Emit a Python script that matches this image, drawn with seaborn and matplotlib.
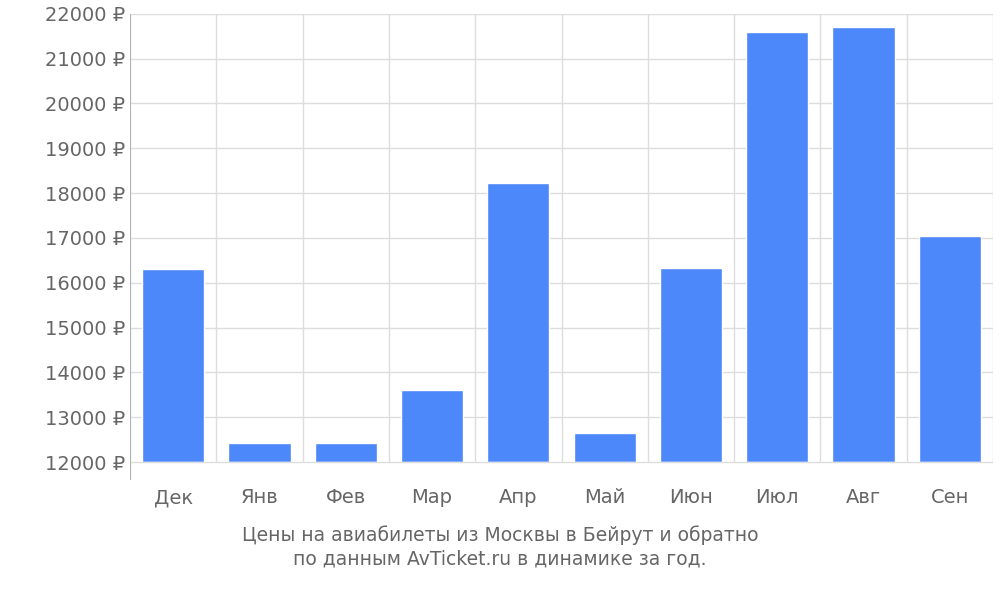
import matplotlib
matplotlib.use("Agg")
import matplotlib.pyplot as plt
import seaborn as sns
import pandas as pd

months = ["Дек", "Янв", "Фев", "Мар", "Апр", "Май", "Июн", "Июл", "Авг", "Сен"]
prices = [16300, 12430, 12430, 13610, 18230, 12640, 16330, 21600, 21710, 17040]
y_ticks = list(range(12000, 22001, 1000))

sns.set_style("white")
plt.rcParams["font.family"] = ["DejaVu Sans"]

df = pd.DataFrame({"month": months, "price": prices})
fig = plt.figure(figsize=(10, 6), dpi=100)
ax = fig.add_axes([0.13, 0.2, 0.863, 0.777])

sns.barplot(data=df, x="month", y="price", color="#4D88FB", saturation=1,
            width=0.72, ax=ax, zorder=3)
ax.set_ylim(11600, 22000)
ax.set_xlim(-0.5, len(months) - 0.5)
# hide bar parts below the 12000 baseline
ax.axhspan(11600, 12000, color="white", zorder=4)

for t in y_ticks:
    ax.axhline(t, color="#dddddd", lw=1, zorder=1 if t > 12000 else 5)
for i in range(len(months) + 1):
    ax.axvline(i - 0.5, color="#dddddd", lw=1, zorder=1 if i else 6)
ax.axvline(-0.5, color="#aaaaaa", lw=1.2, zorder=6)

ax.set_yticks(y_ticks)
ax.set_yticklabels([f"{t} ₽" for t in y_ticks])
ax.tick_params(axis="both", length=0, labelsize=14, labelcolor="#666666")
ax.tick_params(axis="x", pad=6)
for s in ax.spines.values():
    s.set_visible(False)
ax.set_xlabel("")
ax.set_ylabel("")

fig.text(0.5, 0.088, "Цены на авиабилеты из Москвы в Бейрут и обратно\nпо данным AvTicket.ru в динамике за год.",
         ha="center", va="center", fontsize=13.5, color="#666666", linespacing=1.3)

fig.savefig("out.png", dpi=100)
